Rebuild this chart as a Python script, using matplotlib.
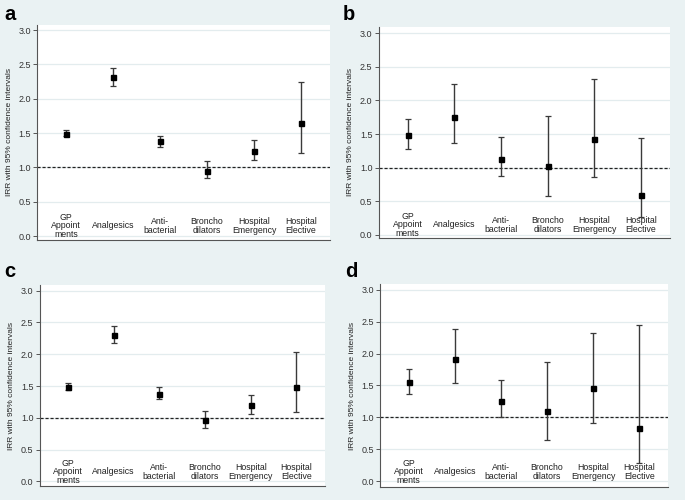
import matplotlib
matplotlib.use("Agg")
import matplotlib.pyplot as plt

plt.rcParams['font.family'] = ['Liberation Sans', 'DejaVu Sans']

# category labels along the bottom of each panel
categories = ["GP\nAppoint\nments", "Analgesics", "Anti-\nbacterial",
              "Broncho\ndilators", "Hospital\nEmergency", "Hospital\nElective"]

# IRR point estimates and 95% CI (lower, upper) per panel
irr_a = [1.49, 2.31, 1.38, 0.95, 1.24, 1.65]
low_a = [1.45, 2.19, 1.30, 0.84, 1.10, 1.21]
high_a = [1.55, 2.44, 1.46, 1.09, 1.40, 2.25]

irr_b = [1.48, 1.76, 1.13, 1.02, 1.42, 0.60]
low_b = [1.27, 1.37, 0.87, 0.58, 0.86, 0.26]
high_b = [1.73, 2.25, 1.46, 1.77, 2.31, 1.44]

irr_c = [1.49, 2.30, 1.38, 0.96, 1.20, 1.49]
low_c = [1.43, 2.17, 1.30, 0.84, 1.06, 1.09]
high_c = [1.55, 2.44, 1.48, 1.10, 1.36, 2.04]

irr_d = [1.55, 1.91, 1.26, 1.10, 1.46, 0.84]
low_d = [1.36, 1.54, 1.00, 0.65, 0.91, 0.29]
high_d = [1.76, 2.39, 1.59, 1.87, 2.33, 2.45]

panel_letters = ["a", "b", "c", "d"]
yticks = [0.0, 0.5, 1.0, 1.5, 2.0, 2.5, 3.0]

bg = "#eaf2f3"
fig = plt.figure(figsize=(6.85, 5.0), dpi=100, facecolor=bg)

# axes rectangles [left, bottom, width, height] and y limits
rects = [[0.054, 0.520, 0.428, 0.430],
         [0.553, 0.524, 0.425, 0.422],
         [0.058, 0.028, 0.416, 0.402],
         [0.555, 0.026, 0.420, 0.406]]
ylims = [(-0.058, 3.073), (-0.045, 3.09), (-0.074, 3.09), (-0.09, 3.09)]
letter_pos = [(4, 20), (343, 20), (4, 277), (345, 277)]

panels = [(irr_a, low_a, high_a), (irr_b, low_b, high_b),
          (irr_c, low_c, high_c), (irr_d, low_d, high_d)]

x = list(range(1, len(categories) + 1))

for i, (irr, low, high) in enumerate(panels):
    ax = fig.add_axes(rects[i])
    ax.set_facecolor("white")

    # light horizontal grid
    for t in yticks:
        ax.axhline(t, color="#e3ecee", lw=0.9, zorder=0)

    # reference line at IRR = 1
    ax.axhline(1.0, color="#222222", lw=0.9, ls=(0, (2.5, 1.5)), zorder=1)

    err = [[v - l for v, l in zip(irr, low)], [h - v for v, h in zip(irr, high)]]
    ax.errorbar(x, irr, yerr=err, fmt="s", color="black", ms=3.6,
                ecolor="#3a3a3a", elinewidth=1.0, capsize=2.2, capthick=0.9, zorder=3)

    for xi, lab in zip(x, categories):
        ax.text(xi, 0.15, lab, ha="center", va="center", fontsize=6.3,
                color="#222222", linespacing=0.95)

    ax.set_xlim(0.38, 6.62)
    ax.set_ylim(*ylims[i])
    ax.set_yticks(yticks)
    ax.set_yticklabels([f"{t:.1f}" for t in yticks], fontsize=6.5, color="#333333")
    ax.set_xticks([])
    ax.tick_params(axis="y", length=3, width=0.7, color="#555555", pad=1.5)
    ax.set_ylabel("IRR with 95% confidence intervals", fontsize=6, color="#222222", labelpad=4)

    for s in ["top", "right"]:
        ax.spines[s].set_visible(False)
    ax.spines["left"].set_color("#555555")
    ax.spines["bottom"].set_color("#555555")
    ax.spines["left"].set_linewidth(0.8)
    ax.spines["bottom"].set_linewidth(0.8)

    lx, ly = letter_pos[i]
    fig.text(lx / 685, 1 - ly / 500, panel_letters[i], fontsize=14.5,
             fontweight="bold", ha="left", va="baseline", color="black")

fig.savefig("out.png", dpi=100, facecolor=bg)
